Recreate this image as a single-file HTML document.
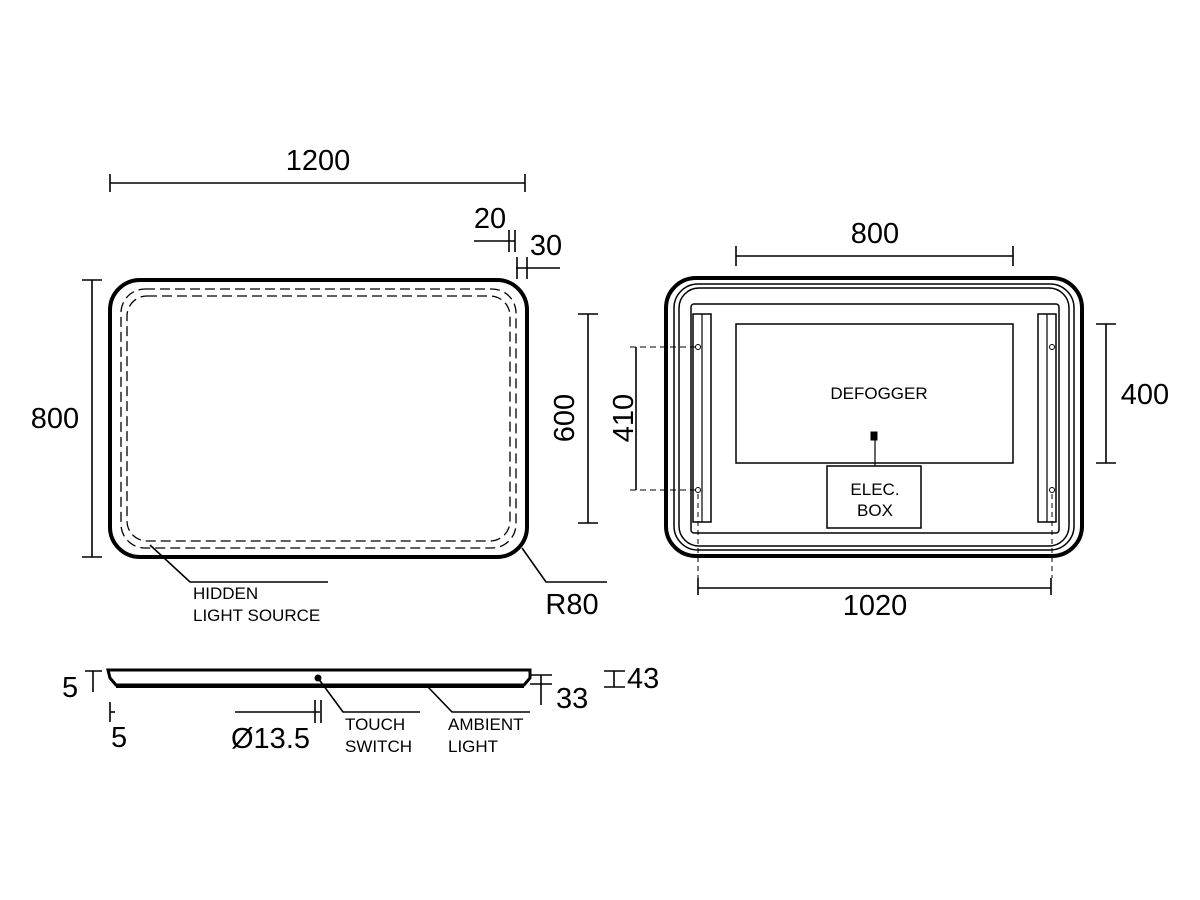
<!DOCTYPE html>
<html><head><style>body{margin:0;background:#fff}svg{display:block}text{font-family:"Liberation Sans",sans-serif;fill:#000}</style></head><body>
<svg width="1200" height="900" viewBox="0 0 1200 900" xmlns="http://www.w3.org/2000/svg">
<g fill="none" stroke="#000">
<!-- left mirror -->
<rect x="110" y="280" width="417" height="277" rx="30" stroke-width="4"/>
<rect x="121" y="289" width="395" height="259" rx="24" stroke-width="1.3" stroke-dasharray="10,5"/>
<rect x="127" y="296" width="383" height="245" rx="20" stroke-width="1.3" stroke-dasharray="10,5"/>
<g stroke-width="1.6">
<line x1="110" y1="183" x2="525" y2="183"/><line x1="110" y1="174" x2="110" y2="192"/><line x1="525" y1="174" x2="525" y2="192"/>
<line x1="92" y1="280" x2="92" y2="557"/><line x1="82" y1="280" x2="102" y2="280"/><line x1="82" y1="557" x2="102" y2="557"/>
<line x1="588" y1="314" x2="588" y2="523"/><line x1="578" y1="314" x2="598" y2="314"/><line x1="578" y1="523" x2="598" y2="523"/>
<line x1="636" y1="347" x2="636" y2="490"/><line x1="630" y1="347" x2="698" y2="347" stroke-dasharray="6,4" stroke-width="1"/><line x1="630" y1="490" x2="698" y2="490" stroke-dasharray="6,4" stroke-width="1"/>
<line x1="474" y1="241" x2="515" y2="241"/><line x1="509" y1="230" x2="509" y2="252"/><line x1="515" y1="230" x2="515" y2="252"/>
<line x1="516" y1="268" x2="560" y2="268"/><line x1="517" y1="257" x2="517" y2="279"/><line x1="527" y1="257" x2="527" y2="279"/>
<polyline points="150,545 190,582 328,582"/>
<polyline points="522,548 546,582 607,582"/>
</g>
<!-- right mirror -->
<rect x="666" y="278" width="416" height="278" rx="30" stroke-width="4"/>
<rect x="674" y="284" width="400" height="266" rx="24" stroke-width="1.5"/>
<rect x="679" y="288" width="390" height="258" rx="20" stroke-width="1.5"/>
<rect x="691" y="304" width="368" height="229" rx="3" stroke-width="1.5"/>
<rect x="693" y="314" width="18" height="208" stroke-width="1.5"/><line x1="702" y1="314" x2="702" y2="522" stroke-width="1.2"/>
<rect x="1038" y="314" width="18" height="208" stroke-width="1.5"/><line x1="1047" y1="314" x2="1047" y2="522" stroke-width="1.2"/>
<g stroke-width="1"><circle cx="698" cy="347" r="2.5"/><circle cx="698" cy="490" r="2.5"/><circle cx="1052" cy="347" r="2.5"/><circle cx="1052" cy="490" r="2.5"/></g>
<rect x="736" y="324" width="277" height="139" stroke-width="1.5"/>
<rect x="827" y="466" width="94" height="62" stroke-width="1.5"/>
<line x1="875" y1="440" x2="875" y2="466" stroke-width="1.2"/>
<rect x="871" y="432" width="6" height="8" fill="#000" stroke-width="1"/>
<g stroke-width="1.6">
<line x1="736" y1="256" x2="1013" y2="256"/><line x1="736" y1="246" x2="736" y2="266"/><line x1="1013" y1="246" x2="1013" y2="266"/>
<line x1="1106" y1="324" x2="1106" y2="463"/><line x1="1096" y1="324" x2="1116" y2="324"/><line x1="1096" y1="463" x2="1116" y2="463"/>
<line x1="698" y1="588" x2="1051" y2="588"/><line x1="698" y1="578" x2="698" y2="595"/><line x1="1051" y1="578" x2="1051" y2="595"/>
</g>
<g stroke-width="1" stroke-dasharray="5,4"><line x1="698" y1="494" x2="698" y2="578"/><line x1="1052" y1="494" x2="1052" y2="578"/></g>
<!-- side view -->
<path d="M108,670 H530 L530,678 L524,685 H116 L110,678 Z" stroke-width="3"/>
<line x1="116" y1="686" x2="524" y2="686" stroke-width="4"/>
<g stroke-width="1.6">
<line x1="85" y1="671" x2="102" y2="671"/><line x1="93" y1="671" x2="93" y2="692"/>
<line x1="530" y1="675" x2="552" y2="675"/><line x1="530" y1="684" x2="552" y2="684"/><line x1="541" y1="675" x2="541" y2="705"/>
<line x1="604" y1="671" x2="625" y2="671"/><line x1="604" y1="687" x2="625" y2="687"/><line x1="614" y1="671" x2="614" y2="687"/>
<line x1="110" y1="702" x2="110" y2="722"/><line x1="110" y1="712" x2="115" y2="712"/>
<line x1="235" y1="712" x2="320" y2="712"/><line x1="315" y1="700" x2="315" y2="723"/><line x1="321" y1="700" x2="321" y2="723"/>
<polyline points="318,678 343,712 420,712"/>
<polyline points="428,687 452,712 530,712"/>
</g>
</g>
<circle cx="318" cy="678" r="3.5"/>
<g font-size="29">
<text x="318" y="170" text-anchor="middle">1200</text>
<text x="55" y="428" text-anchor="middle">800</text>
<text x="490" y="228" text-anchor="middle">20</text>
<text x="546" y="255" text-anchor="middle">30</text>
<text x="574" y="418" text-anchor="middle" transform="rotate(-90 574 418)">600</text>
<text x="633" y="418" text-anchor="middle" transform="rotate(-90 633 418)">410</text>
<text x="572" y="614" text-anchor="middle">R80</text>
<text x="875" y="243" text-anchor="middle">800</text>
<text x="1145" y="404" text-anchor="middle">400</text>
<text x="875" y="615" text-anchor="middle">1020</text>
<text x="62" y="697">5</text>
<text x="111" y="747">5</text>
<text x="231" y="748">Ø13.5</text>
<text x="556" y="708">33</text>
<text x="627" y="688">43</text>
</g>
<g font-size="17">
<text x="193" y="599">HIDDEN</text><text x="193" y="621">LIGHT SOURCE</text>
<text x="345" y="730">TOUCH</text><text x="345" y="752">SWITCH</text>
<text x="448" y="730">AMBIENT</text><text x="448" y="752">LIGHT</text>
<text x="879" y="399" text-anchor="middle">DEFOGGER</text>
<text x="875" y="495" text-anchor="middle">ELEC.</text><text x="875" y="516" text-anchor="middle">BOX</text>
</g>
</svg>
</body></html>
